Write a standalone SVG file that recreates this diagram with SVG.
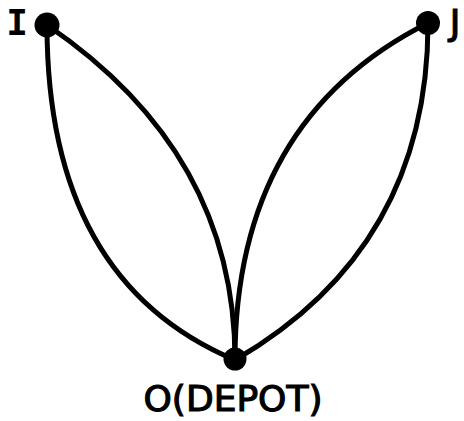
<svg xmlns="http://www.w3.org/2000/svg" width="464" height="421" viewBox="0 0 464 421">
<style>
.e{fill:none;stroke:#000;stroke-width:5;stroke-linecap:round}
.n{fill:#000}
.t{font-family:"DejaVu Sans",sans-serif;font-size:36px;fill:#000;stroke:#000;stroke-width:1.2}
.m{font-family:"DejaVu Sans Mono",monospace;font-size:36px;font-weight:bold;fill:#000}
</style>
<rect width="464" height="421" fill="#fff"/>
<g id="connectors">
<path class="e" d="M47,25 Q47,281 235,360"/>
<path class="e" d="M47,25 Q235,153 235,360"/>
<path class="e" d="M428,23 Q428,248 235,360"/>
<path class="e" d="M428,23 Q235,120 235,360"/>
</g>
<g id="node-I"><circle class="n" cx="47" cy="25" r="12.5"/><text class="m" x="17" y="35" text-anchor="middle">I</text></g>
<g id="node-J"><circle class="n" cx="428" cy="23" r="12"/><text class="t" x="455" y="35" text-anchor="middle">J</text></g>
<g id="node-O"><circle class="n" cx="235" cy="359" r="11.5"/><text class="t" x="233" y="411" text-anchor="middle">O(DEPOT)</text></g>
</svg>
